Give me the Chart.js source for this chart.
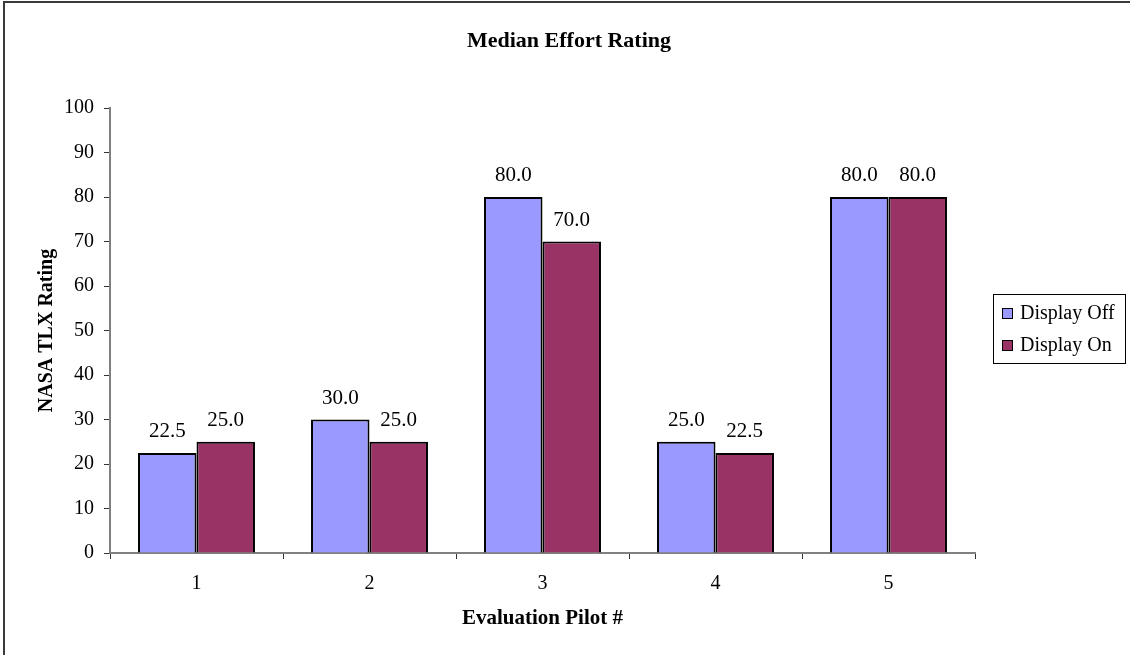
<!DOCTYPE html>
<html>
<head>
<meta charset="utf-8">
<title>Median Effort Rating</title>
<script src="https://cdn.jsdelivr.net/npm/chart.js@4/dist/chart.umd.min.js"></script>
<style>
  html, body { margin: 0; padding: 0; background: #ffffff; }
  #wrap { width: 1130px; height: 655px; position: relative; }
</style>
</head>
<body>
<div id="wrap"><canvas id="chart"></canvas></div>
<script>
// Pilots and their median NASA TLX effort ratings
const pilots = ['1', '2', '3', '4', '5'];
const displayOff = [22.5, 30.0, 80.0, 25.0, 80.0];
const displayOn = [25.0, 25.0, 70.0, 22.5, 80.0];
const seriesNames = ['Display Off', 'Display On'];
const chartTitle = 'Median Effort Rating';
const xTitle = 'Evaluation Pilot #';
const yTitle = 'NASA TLX Rating';

const SERIF = '"Liberation Serif", "Times New Roman", serif';
const colors = ['#9999FF', '#993366'];

// Frame lines, centered title, value labels and the boxed legend
const decorations = {
  id: 'decorations',
  afterDraw(chart) {
    const ctx = chart.ctx;
    ctx.save();
    // frame (left and top edges)
    ctx.fillStyle = '#3a3a3a';
    ctx.fillRect(3, 1, 2, 654);
    ctx.fillRect(3, 1, 1127, 2);

    // title
    ctx.fillStyle = '#000';
    ctx.font = 'bold 22px ' + SERIF;
    ctx.textAlign = 'center';
    ctx.textBaseline = 'middle';
    ctx.fillText(chartTitle, 569, 41);

    // legend
    ctx.lineWidth = 1;
    ctx.strokeStyle = '#000';
    ctx.strokeRect(993.5, 294.5, 132, 69);
    ctx.font = '20px ' + SERIF;
    ctx.textAlign = 'left';
    chart.data.datasets.forEach((ds, i) => {
      const y = 308 + i * 32;
      ctx.fillStyle = ds.backgroundColor;
      ctx.fillRect(1002, y, 11, 11);
      ctx.strokeRect(1002.5, y + 0.5, 10, 10);
      ctx.fillStyle = '#000';
      ctx.fillText(ds.label, 1020, y + 6);
    });
    ctx.restore();
  },
  afterDatasetsDraw(chart) {
    const ctx = chart.ctx;
    ctx.save();
    ctx.fillStyle = '#000';
    ctx.font = '21px ' + SERIF;
    ctx.textAlign = 'center';
    ctx.textBaseline = 'alphabetic';
    chart.data.datasets.forEach((ds, di) => {
      chart.getDatasetMeta(di).data.forEach((bar, i) => {
        ctx.fillText(ds.data[i].toFixed(1), bar.x, bar.y - 16);
      });
    });
    ctx.restore();
  }
};

new Chart(document.getElementById('chart'), {
  type: 'bar',
  data: {
    labels: pilots,
    datasets: [
      { label: seriesNames[0], data: displayOff, backgroundColor: colors[0],
        borderColor: '#000', borderWidth: 2, categoryPercentage: 0.676, barPercentage: 1 },
      { label: seriesNames[1], data: displayOn, backgroundColor: colors[1],
        borderColor: '#000', borderWidth: 2, categoryPercentage: 0.676, barPercentage: 1 }
    ]
  },
  options: {
    responsive: true,
    maintainAspectRatio: false,
    devicePixelRatio: 1,
    animation: false,
    layout: { padding: { top: 108, right: 155, left: 0, bottom: 0 } },
    plugins: {
      legend: { display: false },
      title: { display: false },
      tooltip: { enabled: false }
    },
    scales: {
      x: {
        grid: { offset: true, drawOnChartArea: false, drawTicks: true, tickLength: 6,
                color: '#333', lineWidth: 1 },
        border: { display: true, color: '#808080', width: 2 },
        ticks: { color: '#000', font: { family: SERIF, size: 20 }, padding: 13 },
        title: { display: true, text: xTitle, color: '#000',
                 font: { family: SERIF, size: 21, weight: 'bold' },
                 padding: { top: 0, bottom: 24 } },
        afterFit(scale) { scale.height = 102; }
      },
      y: {
        min: 0, max: 100,
        grid: { drawOnChartArea: false, drawTicks: true, tickLength: 6, color: '#333', lineWidth: 1 },
        border: { display: true, color: '#808080', width: 2 },
        ticks: { stepSize: 10, color: '#000', font: { family: SERIF, size: 20 }, padding: 10 },
        title: { display: true, text: yTitle, color: '#000',
                 font: { family: SERIF, size: 20, weight: 'bold' },
                 padding: { top: 35, bottom: 0 } },
        afterFit(scale) { scale.width = 110; }
      }
    }
  },
  plugins: [decorations]
});
</script>
</body>
</html>
